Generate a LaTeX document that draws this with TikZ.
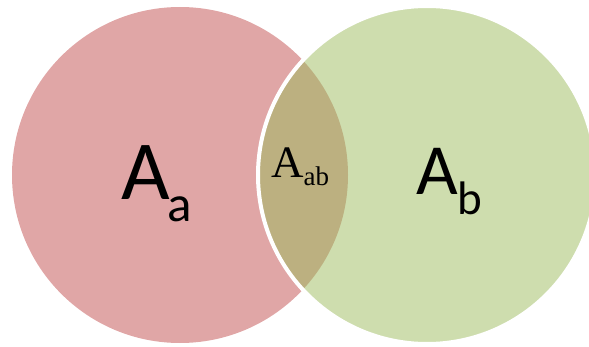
\documentclass[tikz,border=0pt]{standalone}
\usepackage{fontspec}
\newfontfamily\calfont{Carlito}
\newfontfamily\serfont{Liberation Serif}
\usetikzlibrary{positioning}
\definecolor{RedB}{HTML}{E0A6A6}
\definecolor{GreenB}{HTML}{CEDDAE}
\definecolor{OliveB}{HTML}{BCB080}
\tikzset{
  seta/.style={fill=RedB},
  setb/.style={fill=GreenB},
  overlap/.style={fill=OliveB},
  rim/.style={draw=white, line width=4pt},
  lbl/.style={inner sep=0pt, anchor=base west, text=black}
}

\begin{document}
\begin{tikzpicture}[x=1pt, y=1pt]
  \useasboundingbox (0,0) rectangle (589,346);
  \coordinate (ca) at (180,171);
  \coordinate (cb) at (427,171);

  \fill[seta] (ca) circle (168);
  \fill[setb] (cb) circle (168);
  \begin{scope}
    \clip (ca) circle (168);
    \fill[overlap] (cb) circle (168);
  \end{scope}
  \draw[rim] (cb) circle (169);

  \node[lbl] (la) at (121,147) {\calfont\fontsize{84}{84}\selectfont A\kern-2pt\raisebox{-22pt}{\fontsize{51}{51}\selectfont a}};
  \node[lbl] (lb) at (416,152) {\calfont\fontsize{72}{72}\selectfont A\raisebox{-20pt}{\fontsize{47}{47}\selectfont b}};
  \node[lbl] (lab) at (271,169) {\serfont\fontsize{45}{45}\selectfont A\raisebox{-8pt}{\fontsize{27}{27}\selectfont ab}};
\end{tikzpicture}
\end{document}
